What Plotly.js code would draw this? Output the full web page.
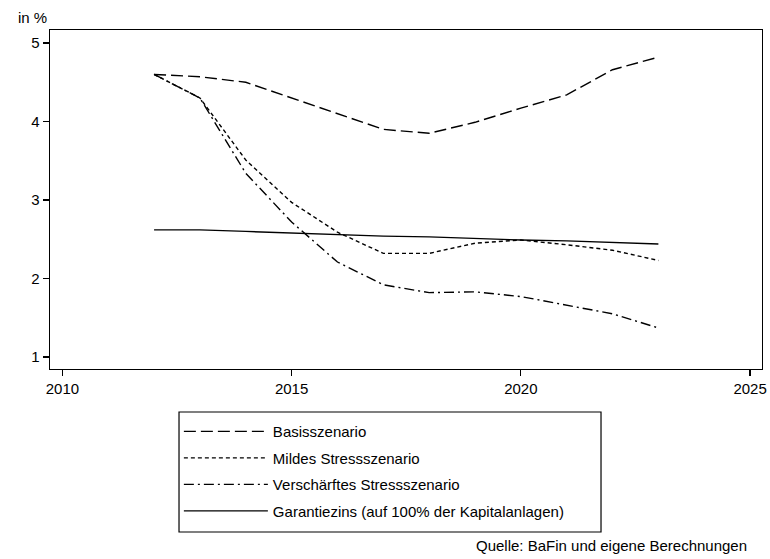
<!DOCTYPE html>
<html>
<head>
<meta charset="utf-8">
<script src="https://cdn.plot.ly/plotly-3.0.1.min.js"></script>
<style>html,body{margin:0;padding:0;background:#fff}#chart{width:770px;height:559px}</style>
</head>
<body>
<div id="chart"></div>
<script>
const years = [2012,2013,2014,2015,2016,2017,2018,2019,2020,2021,2022,2023];
const basis = [4.60,4.57,4.50,4.30,4.10,3.90,3.85,3.99,4.17,4.34,4.66,4.82];
const mild = [4.60,4.30,3.51,2.97,2.59,2.32,2.32,2.45,2.49,2.43,2.36,2.23];
const stress = [4.60,4.30,3.34,2.72,2.21,1.92,1.82,1.83,1.77,1.66,1.55,1.37];
const garantie = [2.62,2.62,2.60,2.58,2.56,2.54,2.53,2.51,2.49,2.48,2.46,2.44];
const names = ["Basisszenario","Mildes Stressszenario","Verschärftes Stressszenario","Garantiezins (auf 100% der Kapitalanlagen)"];
const xTicks = [2010,2015,2020,2025];
const yTicks = [1,2,3,4,5];

const dashes = ["12px,5px","4px,3px","10px,4px,2px,4px","solid"];
const series = [basis, mild, stress, garantie];
const traces = series.map((s,i)=>({
  x: years, y: s, type:'scatter', mode:'lines', name: names[i],
  legendgroup: 'g'+i,
  line:{color:'#000', width:1.4, dash:dashes[i]}
}));

const font = {family:'"Liberation Sans", Arial, sans-serif', size:15, color:'#000'};
const layout = {
  width:770, height:559,
  margin:{l:50, r:8, t:30, b:190},
  paper_bgcolor:'#fff', plot_bgcolor:'#fff',
  font: font,
  showlegend:true,
  xaxis:{range:[2009.73,2025.26], tickvals:xTicks, ticktext:xTicks.map(String),
    ticks:'outside', ticklen:6, tickwidth:1.2, tickcolor:'#000',
    showgrid:false, zeroline:false, showline:true, linecolor:'#000', linewidth:1.4, mirror:true,
    tickfont:font},
  yaxis:{range:[0.847,5.166], tickvals:yTicks, ticktext:yTicks.map(String),
    ticks:'outside', ticklen:6, tickwidth:1.2, tickcolor:'#000',
    showgrid:false, zeroline:false, showline:true, linecolor:'#000', linewidth:1.4, mirror:true,
    tickfont:font},
  legend:{x:0.181, y:-0.136, xanchor:'left', yanchor:'top', orientation:'v',
    borderwidth:0, bgcolor:'rgba(0,0,0,0)', itemwidth:84,
    tracegroupgap:4, font:font, itemclick:false},
  shapes:[
    {type:'rect', xref:'paper', yref:'paper', x0:0.1812, x1:0.7739, y0:-0.1268, y1:-0.4808,
     line:{color:'#000', width:1.2}, fillcolor:'rgba(0,0,0,0)'}
  ],
  annotations:[
    {text:'in %', xref:'paper', yref:'paper', x:-0.024, y:1.0, xanchor:'center', yanchor:'bottom', yshift:2, showarrow:false, font:font},
    {text:'Quelle: BaFin und eigene Berechnungen', xref:'paper', yref:'paper', x:1.0, y:-0.52, xanchor:'right', yanchor:'middle', xshift:-13, showarrow:false, font:font}
  ]
};
Plotly.newPlot('chart', traces, layout, {displayModeBar:false, staticPlot:true});
</script>
</body>
</html>
